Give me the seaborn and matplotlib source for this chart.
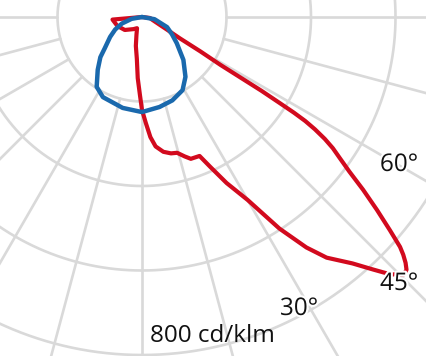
import numpy as np
import pandas as pd
import matplotlib
matplotlib.use("Agg")
import matplotlib.pyplot as plt
import matplotlib.patheffects as pe
import seaborn as sns

# ---- data (angle from nadir in degrees, luminous intensity in cd/klm) ----
blue_angle = [-90, -80, -72, -65, -58, -50, -46, -40, -33, -26, -12, 0,
              11, 20, 29, 36, 44, 53, 60, 68, 80, 90]
blue_cd = [0, 25, 50, 70, 89, 115, 137, 163, 197, 211, 220, 225,
           217, 210, 198, 175, 141, 103, 82, 64, 30, 0]

red_angle = [-90, -85, -70, -53, -35, -24, -17, -12, -7, -4, -1.5, 0,
             2, 4, 6, 9, 12, 14.5, 17, 19, 22.5, 24.5, 27, 30, 33, 35.5,
             37.5, 40.5, 42.5, 44, 45.5, 46.3, 47, 47.7, 48.3, 49.3, 50.6,
             52, 53.3, 54.5, 55.5, 56.3, 57.0, 57.5, 57.8, 58.0, 58.3, 58.6,
             59.5, 60.6, 63, 66, 75, 83, 90]
red_cd = [0, 70, 62, 51, 35, 29, 45, 70, 100, 145, 185, 220,
          250, 285, 308, 323, 330, 332, 345, 355, 356, 390, 441, 500, 597, 670,
          718, 767, 811, 847, 869, 866, 853, 836, 818, 774, 720,
          664, 612, 575, 548, 520, 488, 458, 425, 385, 332, 218,
          160, 103, 68, 47, 25, 19, 0]

ring_values = [200, 400, 600, 800]
angle_labels = ["30°", "45°", "60°"]
scale_label = "800 cd/klm"

# ---- figure ----
W, H = 427, 356
fig = plt.figure(figsize=(W / 100, H / 100), dpi=100)
sns.set_style("white")

cx, cy = 142, 17            # pole position in pixels (from top-left)
px_per_unit = 84.5 / 200
rmax = 1100
R = rmax * px_per_unit
ax = fig.add_axes([(cx - R) / W, (H - cy - R) / H, 2 * R / W, 2 * R / H],
                  projection="polar")
ax.set_theta_zero_location("S")
ax.set_theta_direction(1)
ax.set_ylim(0, rmax)
ax.grid(False)
ax.set_xticks([])
ax.set_yticks([])
ax.spines["polar"].set_visible(False)
ax.patch.set_alpha(0)

grid_col = "#d9d9d9"
tt = np.linspace(0, 2 * np.pi, 721)
for rv in ring_values:
    ax.plot(tt, np.full_like(tt, rv), color=grid_col, lw=1.9, zorder=1)
for a in range(0, 360, 15):
    t = np.deg2rad(a)
    ax.plot([t, t], [ring_values[0], rmax * 1.2], color=grid_col, lw=1.9, zorder=1)

df_red = pd.DataFrame({"theta": np.deg2rad(red_angle), "cd": red_cd})
df_blue = pd.DataFrame({"theta": np.deg2rad(blue_angle), "cd": blue_cd})
sns.lineplot(data=df_red, x="theta", y="cd", ax=ax, sort=False, estimator=None,
             color="#d20a1e", lw=3.0, zorder=3)
sns.lineplot(data=df_blue, x="theta", y="cd", ax=ax, sort=False, estimator=None,
             color="#1a69ad", lw=3.2, zorder=4)
for ln in ax.lines[-2:]:
    ln.set_solid_joinstyle("round")
    ln.set_solid_capstyle("round")
ax.set_xlabel("")
ax.set_ylabel("")
ax.set_ylim(0, rmax)

font = "Open Sans"
halo = [pe.withStroke(linewidth=3, foreground="white")]
fs = 17.5
for lab, (x, y) in zip(angle_labels, [(299, 309), (399, 284), (399, 165)]):
    fig.text(x / W, 1 - y / H, lab, ha="center", va="center", fontsize=fs,
             family=font, color="#111111", path_effects=halo, zorder=10)
fig.text(212 / W, 1 - 336 / H, scale_label, ha="center", va="center", fontsize=fs,
         family=font, color="#111111", zorder=10)

fig.savefig("out.png", dpi=100)
